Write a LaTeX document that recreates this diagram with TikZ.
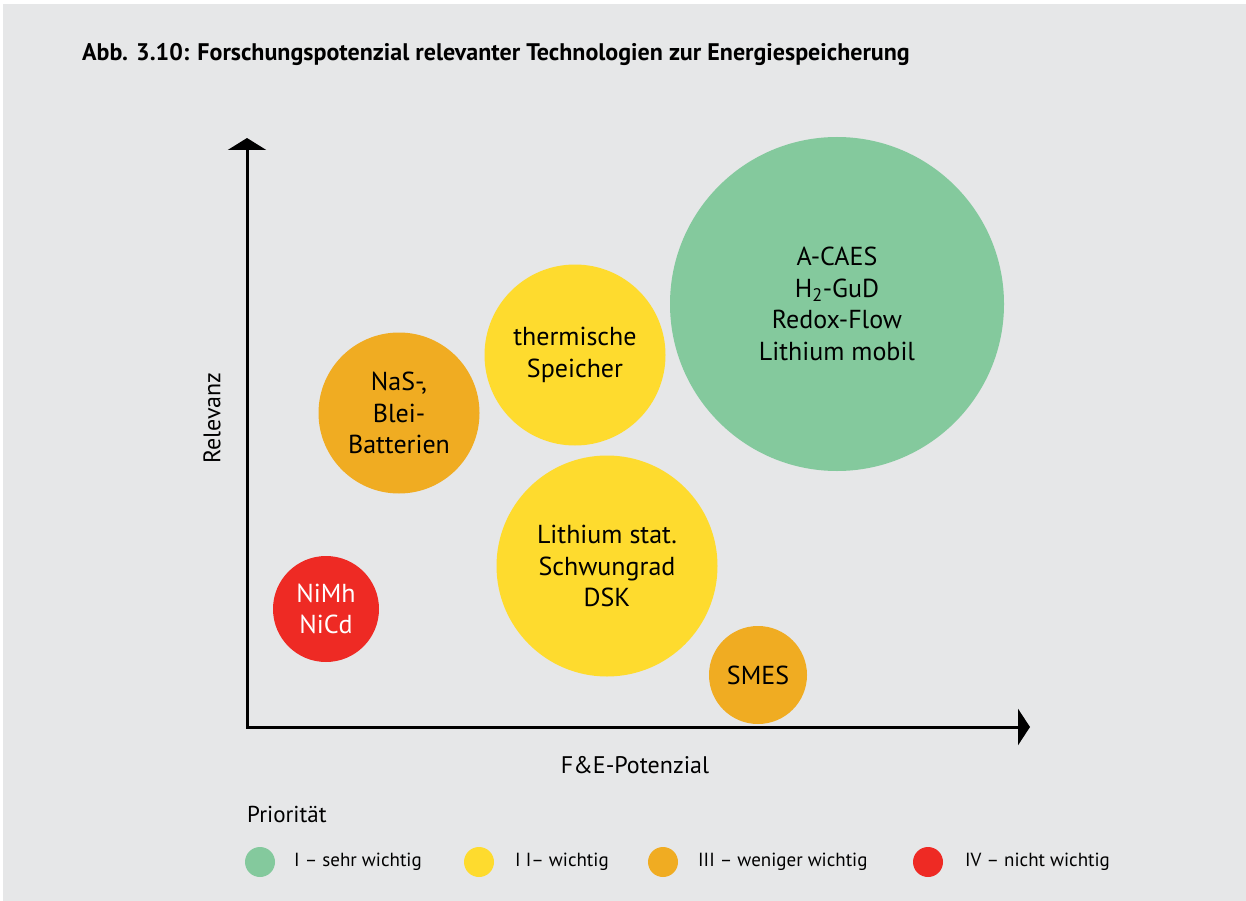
\documentclass[tikz,border=0pt]{standalone}
\usepackage{fontspec}
\setmainfont{PT Sans}
\usetikzlibrary{arrows.meta}
\definecolor{bggrey}{HTML}{E6E7E8}
\definecolor{prioA}{HTML}{84C99D}
\definecolor{prioB}{HTML}{FEDB2E}
\definecolor{prioC}{HTML}{F0AC22}
\definecolor{prioD}{HTML}{EE2A24}

\begin{document}
\begin{tikzpicture}[x=1pt, y=-1pt,
    bubble/.style={circle, inner sep=0pt, align=center, font=\fontsize{26}{31.5}\selectfont},
    dot/.style={circle, inner sep=0pt, minimum size=30pt},
    legtext/.style={anchor=west, inner sep=0pt, font=\fontsize{19}{22}\selectfont},
    axis/.style={line width=3pt, {Triangle[width=38pt,length=12pt]}-{Triangle[width=36pt,length=12pt]}}]
    \useasboundingbox (0,0) rectangle (1246,901);
    \fill[bggrey] (3,4) rectangle (1246,901);

    \node[anchor=west, inner sep=0pt, font=\fontsize{24}{28}\bfseries\selectfont] (title) at (82,54) {Abb. 3.10: Forschungspotenzial relevanter Technologien zur Energiespeicherung};

    % Axes
    \coordinate (origin) at (247,727);
    \coordinate (ytip) at (247,138);
    \coordinate (xtip) at (1030,727);
    \draw[axis] (ytip) -- (origin) -- (xtip);
    \node[rotate=90, font=\fontsize{24}{28}\selectfont] (ylabel) at (212,418) {Relevanz};
    \node[font=\fontsize{24}{28}\selectfont] (xlabel) at (635,765) {F\&E-Potenzial};

    % Bubbles
    \node[bubble, fill=prioA, minimum size=334pt] (acaes) at (837,304) {A-CAES\\H\textsubscript{2}-GuD\\Redox-Flow\\Lithium mobil};
    \node[bubble, fill=prioB, minimum size=181pt] (thermisch) at (575,355) {thermische\\Speicher};
    \node[bubble, fill=prioC, minimum size=161pt] (nas) at (399,413) {NaS-,\\Blei-\\Batterien};
    \node[bubble, fill=prioB, minimum size=221pt] (lithstat) at (607,566) {Lithium stat.\\Schwungrad\\DSK};
    \node[bubble, fill=prioD, minimum size=106pt, text=white] (nimh) at (326,609) {NiMh\\NiCd};
    \node[bubble, fill=prioC, minimum size=98pt] (smes) at (758,675) {SMES};

    % Legend
    \node[anchor=west, inner sep=0pt, font=\fontsize{23}{26}\selectfont] (prio) at (247,814) {Priorität};
    \node[dot, fill=prioA] (dotA) at (260,862) {};
    \node[legtext] (legA) at (294,862) {I – sehr wichtig};
    \node[dot, fill=prioB] (dotB) at (479,862) {};
    \node[legtext] (legB) at (515,862) {I I– wichtig};
    \node[dot, fill=prioC] (dotC) at (663,862) {};
    \node[legtext] (legC) at (698,862) {III – weniger wichtig};
    \node[dot, fill=prioD] (dotD) at (928,862) {};
    \node[legtext] (legD) at (965,862) {IV – nicht wichtig};
\end{tikzpicture}
\end{document}
